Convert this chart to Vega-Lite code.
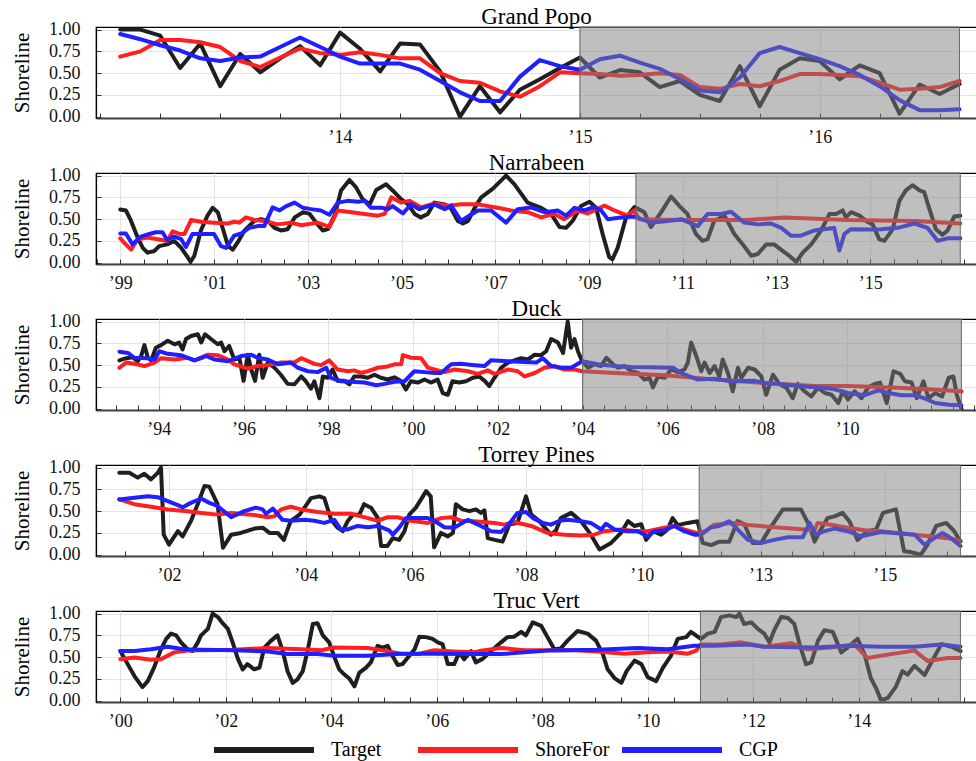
{
  "$schema": "https://vega.github.io/schema/vega-lite/v6.json",
  "padding": {"left": 10, "top": 5, "right": 0, "bottom": 0},
  "background": "white",
  "spacing": 55,
  "bounds": "flush",
  "config": {
    "font": "Liberation Serif, DejaVu Serif, serif",
    "view": {"stroke": "#000", "strokeWidth": 1.2},
    "axis": {"labelFont": "Liberation Serif, DejaVu Serif, serif", "labelFontSize": 18, "labelColor": "#111", "titleFont": "Liberation Serif, DejaVu Serif, serif", "titleFontSize": 21, "titleFontWeight": "normal", "titleColor": "#000", "gridColor": "#e4e4e4", "gridWidth": 1.2, "tickColor": "#333", "tickWidth": 1, "domainColor": "#000", "domainWidth": 1.2},
    "axisX": {"domainColor": "#444", "domainWidth": 2},
    "title": {"font": "Liberation Serif, DejaVu Serif, serif", "fontSize": 23, "fontWeight": "normal", "color": "#000", "anchor": "middle", "offset": -8.5, "baseline": "alphabetic"}
  },
  "datasets": {
    "shade": [
      {"p": "Grand Popo", "a": 2015.0, "b": 2016.583},
      {"p": "Narrabeen", "a": 2010.0, "b": 2016.92},
      {"p": "Duck", "a": 2004.0, "b": 2012.71},
      {"p": "Torrey Pines", "a": 2011.45, "b": 2016.22},
      {"p": "Truc Vert", "a": 2011.0, "b": 2015.93}
    ],
    "lines": [
      {"p": "Grand Popo", "s": "Target",
       "t": [2013.083,2013.167,2013.25,2013.333,2013.417,2013.5,2013.583,2013.667,2013.75,2013.833,2013.917,2014.0,2014.083,2014.167,2014.25,2014.333,2014.417,2014.5,2014.583,2014.667,2014.75,2014.833,2014.917,2015.0,2015.083,2015.167,2015.25,2015.333,2015.417,2015.5,2015.583,2015.667,2015.75,2015.833,2015.917,2016.0,2016.083,2016.167,2016.25,2016.333,2016.417,2016.5,2016.583],
       "v": [1.0,1.0,0.93,0.56,0.84,0.35,0.72,0.51,0.67,0.81,0.59,0.965,0.78,0.52,0.84,0.83,0.52,0.0,0.35,0.05,0.31,0.43,0.56,0.68,0.45,0.535,0.51,0.34,0.41,0.25,0.18,0.58,0.12,0.54,0.67,0.64,0.43,0.59,0.5,0.035,0.37,0.26,0.375]},
      {"p": "Grand Popo", "s": "ShoreFor",
       "t": [2013.083,2013.167,2013.25,2013.333,2013.417,2013.5,2013.583,2013.667,2013.75,2013.833,2013.917,2014.0,2014.083,2014.167,2014.25,2014.333,2014.417,2014.5,2014.583,2014.667,2014.75,2014.833,2014.917,2015.0,2015.083,2015.167,2015.25,2015.333,2015.417,2015.5,2015.583,2015.667,2015.75,2015.833,2015.917,2016.0,2016.083,2016.167,2016.25,2016.333,2016.417,2016.5,2016.583],
       "v": [0.69,0.75,0.88,0.88,0.855,0.80,0.64,0.57,0.68,0.785,0.73,0.71,0.74,0.71,0.67,0.67,0.50,0.41,0.39,0.29,0.23,0.35,0.51,0.50,0.49,0.47,0.48,0.50,0.48,0.34,0.32,0.375,0.35,0.41,0.49,0.49,0.48,0.465,0.39,0.31,0.32,0.34,0.41]},
      {"p": "Grand Popo", "s": "CGP",
       "t": [2013.083,2013.167,2013.25,2013.333,2013.417,2013.5,2013.583,2013.667,2013.75,2013.833,2013.917,2014.0,2014.083,2014.167,2014.25,2014.333,2014.417,2014.5,2014.583,2014.667,2014.75,2014.833,2014.917,2015.0,2015.083,2015.167,2015.25,2015.333,2015.417,2015.5,2015.583,2015.667,2015.75,2015.833,2015.917,2016.0,2016.083,2016.167,2016.25,2016.333,2016.417,2016.5,2016.583],
       "v": [0.95,0.89,0.82,0.76,0.67,0.64,0.68,0.69,0.80,0.91,0.80,0.69,0.61,0.61,0.61,0.54,0.41,0.28,0.18,0.18,0.46,0.65,0.58,0.54,0.66,0.70,0.62,0.55,0.43,0.30,0.28,0.45,0.73,0.80,0.73,0.66,0.58,0.48,0.35,0.19,0.075,0.075,0.085]},
      {"p": "Narrabeen", "s": "Target",
       "t": [1999.0,1999.12,1999.23,1999.37,1999.48,1999.58,1999.73,1999.83,2000.0,2000.15,2000.3,2000.44,2000.5,2000.58,2000.72,2000.86,2000.97,2001.08,2001.2,2001.3,2001.4,2001.5,2001.65,2001.86,2002.0,2002.15,2002.29,2002.43,2002.57,2002.72,2002.9,2003.04,2003.18,2003.32,2003.43,2003.57,2003.71,2003.89,2004.03,2004.17,2004.32,2004.46,2004.67,2004.81,2004.99,2005.14,2005.28,2005.41,2005.56,2005.7,2005.92,2006.06,2006.2,2006.31,2006.42,2006.56,2006.7,2006.95,2007.23,2007.41,2007.69,2007.98,2008.19,2008.37,2008.51,2008.65,2008.83,2009.01,2009.15,2009.29,2009.43,2009.5,2009.61,2009.79,2009.97,2010.18,2010.32,2010.54,2010.75,2010.93,2011.1,2011.28,2011.42,2011.53,2011.67,2011.89,2012.1,2012.28,2012.46,2012.6,2012.78,2012.95,2013.13,2013.27,2013.42,2013.56,2013.74,2013.95,2014.13,2014.27,2014.41,2014.48,2014.59,2014.77,2014.91,2015.05,2015.19,2015.3,2015.48,2015.62,2015.76,2015.9,2016.05,2016.15,2016.26,2016.4,2016.54,2016.65,2016.79,2016.92],
       "v": [0.61,0.60,0.48,0.29,0.17,0.115,0.135,0.19,0.21,0.25,0.17,0.06,0.01,0.08,0.37,0.54,0.63,0.58,0.37,0.19,0.15,0.23,0.37,0.48,0.50,0.48,0.40,0.37,0.385,0.52,0.58,0.56,0.46,0.37,0.385,0.54,0.83,0.95,0.865,0.73,0.67,0.835,0.90,0.83,0.73,0.67,0.56,0.52,0.56,0.69,0.67,0.62,0.48,0.45,0.48,0.63,0.75,0.85,1.0,0.90,0.69,0.63,0.56,0.41,0.40,0.48,0.65,0.70,0.63,0.33,0.065,0.04,0.17,0.52,0.64,0.58,0.41,0.58,0.76,0.65,0.56,0.33,0.25,0.27,0.48,0.54,0.33,0.21,0.08,0.10,0.21,0.21,0.135,0.08,0.01,0.115,0.21,0.37,0.56,0.56,0.60,0.52,0.58,0.54,0.48,0.44,0.27,0.25,0.385,0.71,0.83,0.89,0.83,0.81,0.62,0.385,0.32,0.37,0.53,0.54]},
      {"p": "Narrabeen", "s": "ShoreFor",
       "t": [1999.0,1999.08,1999.23,1999.37,1999.58,1999.8,2000.0,2000.12,2000.26,2000.37,2000.51,2000.72,2001.0,2001.29,2001.43,2001.54,2001.68,2001.86,2002.07,2002.36,2002.64,2002.86,2003.21,2003.46,2003.64,2003.93,2004.21,2004.49,2004.64,2004.78,2004.99,2005.17,2005.42,2005.7,2005.99,2006.27,2006.63,2007.05,2007.33,2007.69,2007.98,2008.26,2008.47,2008.76,2008.97,2009.11,2009.33,2009.54,2009.82,2009.97,2010.07,2010.96,2012.38,2013.17,2014.52,2015.94,2016.92],
       "v": [0.28,0.23,0.15,0.27,0.29,0.27,0.25,0.36,0.33,0.33,0.49,0.47,0.46,0.45,0.47,0.46,0.52,0.49,0.48,0.44,0.46,0.43,0.46,0.41,0.60,0.58,0.56,0.54,0.56,0.75,0.69,0.71,0.635,0.68,0.655,0.67,0.67,0.63,0.60,0.58,0.52,0.56,0.50,0.60,0.565,0.60,0.655,0.60,0.54,0.60,0.50,0.49,0.49,0.52,0.49,0.48,0.45]},
      {"p": "Narrabeen", "s": "CGP",
       "t": [1999.0,1999.12,1999.26,1999.44,1999.62,1999.76,1999.9,2000.0,2000.15,2000.3,2000.4,2000.54,2000.72,2001.0,2001.15,2001.26,2001.43,2001.58,2001.75,2001.93,2002.07,2002.25,2002.4,2002.54,2002.72,2002.9,2003.07,2003.28,2003.46,2003.64,2003.85,2004.07,2004.21,2004.35,2004.57,2004.71,2004.81,2005.03,2005.2,2005.38,2005.49,2005.7,2005.92,2006.06,2006.27,2006.42,2006.63,2006.91,2007.23,2007.48,2007.76,2008.05,2008.33,2008.51,2008.69,2008.9,2009.11,2009.26,2009.4,2009.68,2009.97,2010.32,2010.68,2010.96,2011.32,2011.53,2011.82,2012.03,2012.31,2012.6,2012.88,2013.1,2013.31,2013.52,2013.81,2014.09,2014.23,2014.34,2014.45,2014.59,2015.02,2015.23,2015.59,2015.94,2016.22,2016.44,2016.65,2016.92],
       "v": [0.335,0.335,0.21,0.30,0.33,0.35,0.35,0.26,0.30,0.27,0.18,0.33,0.33,0.33,0.19,0.17,0.31,0.335,0.40,0.42,0.42,0.635,0.60,0.65,0.69,0.63,0.615,0.60,0.55,0.69,0.71,0.70,0.71,0.63,0.63,0.615,0.65,0.565,0.67,0.615,0.635,0.67,0.615,0.655,0.48,0.53,0.60,0.60,0.46,0.615,0.635,0.58,0.60,0.54,0.63,0.60,0.64,0.60,0.50,0.52,0.53,0.46,0.48,0.50,0.42,0.56,0.56,0.585,0.46,0.44,0.45,0.40,0.31,0.31,0.37,0.39,0.40,0.14,0.33,0.385,0.38,0.385,0.40,0.45,0.40,0.25,0.28,0.28]},
      {"p": "Duck", "s": "Target",
       "t": [1993.07,1993.23,1993.38,1993.5,1993.58,1993.66,1993.74,1993.82,1993.93,1994.05,1994.21,1994.37,1994.48,1994.56,1994.64,1994.76,1994.92,1995.0,1995.09,1995.23,1995.39,1995.47,1995.55,1995.66,1995.78,1995.9,1996.0,1996.1,1996.18,1996.27,1996.37,1996.45,1996.57,1996.73,1996.88,1997.04,1997.2,1997.36,1997.47,1997.59,1997.67,1997.79,1997.87,1997.99,1998.1,1998.22,1998.38,1998.5,1998.61,1998.77,1998.93,1999.09,1999.24,1999.4,1999.56,1999.72,1999.83,1999.95,2000.11,2000.27,2000.42,2000.58,2000.7,2000.82,2000.93,2001.09,2001.25,2001.41,2001.56,2001.69,2001.8,2001.92,2002.08,2002.24,2002.39,2002.55,2002.71,2002.87,2003.02,2003.14,2003.26,2003.42,2003.54,2003.65,2003.73,2003.81,2003.89,2003.99,2004.13,2004.28,2004.44,2004.56,2004.72,2004.83,2004.99,2005.15,2005.31,2005.46,2005.58,2005.66,2005.78,2005.94,2006.08,2006.22,2006.36,2006.43,2006.5,2006.61,2006.71,2006.78,2006.89,2006.99,2007.09,2007.16,2007.27,2007.37,2007.48,2007.55,2007.69,2007.83,2007.97,2008.08,2008.24,2008.4,2008.56,2008.71,2008.83,2008.99,2009.15,2009.31,2009.47,2009.63,2009.79,2009.9,2010.02,2010.18,2010.34,2010.5,2010.66,2010.78,2010.94,2011.1,2011.26,2011.37,2011.53,2011.65,2011.81,2011.93,2012.09,2012.25,2012.41,2012.52,2012.6,2012.71],
       "v": [0.555,0.58,0.59,0.545,0.60,0.73,0.585,0.555,0.70,0.73,0.78,0.74,0.76,0.68,0.80,0.835,0.855,0.76,0.855,0.80,0.74,0.76,0.66,0.72,0.565,0.585,0.32,0.62,0.45,0.32,0.62,0.355,0.53,0.47,0.39,0.285,0.28,0.37,0.315,0.23,0.315,0.12,0.37,0.355,0.45,0.32,0.32,0.28,0.37,0.37,0.355,0.39,0.355,0.335,0.36,0.315,0.22,0.315,0.30,0.335,0.30,0.335,0.18,0.16,0.315,0.30,0.315,0.355,0.37,0.32,0.26,0.355,0.47,0.53,0.555,0.58,0.565,0.62,0.615,0.66,0.80,0.76,0.64,1.0,0.70,0.80,0.66,0.545,0.47,0.51,0.49,0.585,0.51,0.47,0.49,0.43,0.41,0.335,0.355,0.245,0.37,0.355,0.45,0.42,0.45,0.53,0.76,0.60,0.43,0.53,0.41,0.49,0.37,0.565,0.41,0.20,0.47,0.355,0.47,0.45,0.37,0.16,0.39,0.28,0.24,0.12,0.285,0.20,0.14,0.24,0.18,0.16,0.065,0.20,0.105,0.20,0.12,0.245,0.285,0.30,0.065,0.43,0.40,0.315,0.30,0.12,0.315,0.12,0.18,0.14,0.355,0.37,0.16,0.0]},
      {"p": "Duck", "s": "ShoreFor",
       "t": [1993.07,1993.23,1993.42,1993.66,1993.9,1994.05,1994.37,1994.68,1994.84,1995.16,1995.39,1995.63,1995.78,1996.1,1996.33,1996.57,1996.88,1997.2,1997.36,1997.67,1997.83,1998.02,1998.22,1998.46,1998.61,1998.77,1998.93,1999.17,1999.4,1999.56,1999.72,1999.76,1999.95,2000.19,2000.35,2000.5,2000.74,2000.98,2001.3,2001.53,2001.76,2001.92,2002.24,2002.47,2002.63,2002.87,2003.1,2003.34,2003.57,2003.81,2003.99,2004.76,2005.94,2006.99,2008.04,2009.23,2010.02,2011.21,2012.0,2012.71],
       "v": [0.47,0.53,0.515,0.49,0.53,0.58,0.565,0.585,0.555,0.62,0.615,0.565,0.51,0.46,0.49,0.50,0.53,0.53,0.58,0.515,0.50,0.555,0.45,0.43,0.44,0.41,0.43,0.47,0.485,0.51,0.51,0.615,0.585,0.58,0.47,0.45,0.42,0.45,0.43,0.40,0.44,0.40,0.45,0.43,0.37,0.41,0.47,0.49,0.45,0.45,0.43,0.41,0.385,0.335,0.295,0.26,0.26,0.24,0.22,0.20]},
      {"p": "Duck", "s": "CGP",
       "t": [1993.07,1993.27,1993.42,1993.74,1993.9,1994.01,1994.21,1994.52,1994.84,1995.0,1995.11,1995.31,1995.63,1995.94,1996.18,1996.33,1996.57,1996.81,1997.12,1997.28,1997.52,1997.75,1997.95,1998.06,1998.3,1998.54,1998.85,1999.13,1999.33,1999.56,1999.8,2000.03,2000.27,2000.5,2000.66,2000.9,2001.13,2001.45,2001.69,2001.84,2002.24,2002.63,2002.91,2003.06,2003.26,2003.5,2003.73,2003.99,2004.36,2004.76,2005.15,2005.54,2006.12,2006.29,2006.64,2006.99,2007.34,2007.83,2008.04,2008.44,2008.83,2009.23,2009.63,2010.02,2010.42,2010.74,2010.98,2011.29,2011.61,2011.85,2012.09,2012.41,2012.71],
       "v": [0.655,0.64,0.585,0.58,0.565,0.66,0.63,0.615,0.555,0.58,0.605,0.565,0.545,0.605,0.62,0.585,0.565,0.51,0.53,0.47,0.43,0.42,0.47,0.355,0.315,0.31,0.30,0.27,0.285,0.31,0.315,0.43,0.42,0.41,0.41,0.51,0.515,0.50,0.49,0.555,0.545,0.535,0.53,0.58,0.49,0.47,0.47,0.545,0.51,0.49,0.48,0.475,0.47,0.41,0.335,0.345,0.315,0.32,0.295,0.28,0.26,0.245,0.23,0.18,0.155,0.21,0.18,0.155,0.155,0.115,0.065,0.045,0.04]},
      {"p": "Torrey Pines", "s": "Target",
       "t": [2001.435,2001.549,2001.644,2001.719,2001.795,2001.872,2001.909,2001.94,2002.0,2002.13,2002.2,2002.32,2002.42,2002.52,2002.59,2002.71,2002.79,2002.91,2003.05,2003.25,2003.37,2003.47,2003.59,2003.68,2003.78,2003.91,2004.0,2004.1,2004.26,2004.35,2004.48,2004.6,2004.7,2004.79,2004.89,2005.01,2005.1,2005.23,2005.36,2005.42,2005.54,2005.64,2005.76,2005.86,2005.95,2006.07,2006.25,2006.33,2006.39,2006.51,2006.63,2006.72,2006.77,2006.89,2007.01,2007.12,2007.21,2007.27,2007.33,2007.45,2007.59,2007.71,2007.85,2008.0,2008.09,2008.23,2008.43,2008.52,2008.6,2008.78,2008.95,2009.12,2009.27,2009.47,2009.64,2009.76,2009.87,2009.99,2010.11,2010.28,2010.49,2010.65,2010.78,2010.91,2011.16,2011.41,2011.54,2011.75,2011.96,2012.21,2012.42,2012.59,2012.8,2013.01,2013.14,2013.36,2013.65,2013.79,2013.87,2013.97,2014.08,2014.19,2014.32,2014.43,2014.56,2014.72,2014.86,2014.97,2015.18,2015.31,2015.42,2015.58,2015.69,2015.83,2015.99,2016.12,2016.22],
       "v": [0.94,0.94,0.885,0.93,0.865,0.94,1.0,0.23,0.115,0.27,0.21,0.385,0.58,0.79,0.78,0.58,0.08,0.23,0.25,0.30,0.31,0.25,0.25,0.17,0.385,0.46,0.56,0.65,0.67,0.65,0.40,0.31,0.27,0.385,0.46,0.46,0.58,0.54,0.42,0.10,0.10,0.19,0.17,0.27,0.46,0.54,0.73,0.67,0.085,0.25,0.21,0.25,0.58,0.52,0.50,0.52,0.48,0.51,0.19,0.17,0.15,0.35,0.365,0.67,0.46,0.385,0.23,0.28,0.42,0.48,0.385,0.23,0.06,0.135,0.25,0.385,0.33,0.35,0.17,0.27,0.23,0.29,0.42,0.34,0.365,0.385,0.135,0.11,0.15,0.15,0.385,0.35,0.135,0.135,0.29,0.52,0.52,0.33,0.15,0.29,0.42,0.44,0.48,0.385,0.17,0.27,0.29,0.48,0.52,0.04,0.03,0.0,0.115,0.33,0.365,0.27,0.15]},
      {"p": "Torrey Pines", "s": "ShoreFor",
       "t": [2001.435,2001.606,2001.795,2001.985,2002.27,2002.47,2002.71,2002.91,2003.25,2003.44,2003.54,2003.64,2003.78,2003.93,2004.23,2004.54,2004.85,2005.17,2005.36,2005.54,2005.73,2005.98,2006.28,2006.51,2006.69,2006.86,2007.09,2007.45,2007.62,2007.79,2008.09,2008.37,2008.66,2008.95,2009.18,2009.35,2009.64,2009.93,2010.15,2010.57,2010.82,2011.07,2011.45,2011.67,2011.83,2012.34,2012.68,2013.33,2013.87,2013.92,2014.13,2014.4,2014.67,2014.94,2015.21,2015.48,2015.75,2016.01,2016.22],
       "v": [0.635,0.58,0.55,0.52,0.50,0.48,0.46,0.48,0.455,0.43,0.44,0.52,0.55,0.52,0.49,0.47,0.47,0.42,0.39,0.43,0.43,0.39,0.365,0.42,0.43,0.39,0.385,0.365,0.345,0.375,0.33,0.25,0.23,0.22,0.23,0.27,0.29,0.27,0.27,0.31,0.33,0.29,0.24,0.29,0.345,0.365,0.34,0.31,0.28,0.365,0.345,0.31,0.28,0.27,0.25,0.23,0.21,0.19,0.16]},
      {"p": "Torrey Pines", "s": "CGP",
       "t": [2001.435,2001.606,2001.758,2001.872,2001.985,2002.13,2002.2,2002.32,2002.47,2002.59,2002.71,2002.91,2003.1,2003.27,2003.37,2003.42,2003.52,2003.66,2003.78,2003.98,2004.16,2004.35,2004.54,2004.66,2004.79,2004.98,2005.17,2005.36,2005.57,2005.64,2005.76,2005.89,2006.1,2006.28,2006.39,2006.57,2006.74,2006.98,2007.21,2007.39,2007.56,2007.68,2007.85,2008.0,2008.12,2008.29,2008.43,2008.58,2008.72,2008.95,2009.12,2009.3,2009.38,2009.53,2009.76,2009.93,2010.15,2010.32,2010.57,2010.82,2011.07,2011.33,2011.5,2011.75,2011.96,2012.21,2012.42,2012.68,2013.01,2013.22,2013.44,2013.68,2013.79,2013.89,2014.03,2014.19,2014.4,2014.62,2014.94,2015.31,2015.48,2015.64,2015.8,2015.93,2016.07,2016.22],
       "v": [0.635,0.655,0.67,0.66,0.615,0.57,0.545,0.595,0.645,0.595,0.56,0.43,0.50,0.54,0.52,0.47,0.53,0.40,0.39,0.40,0.39,0.365,0.40,0.29,0.29,0.33,0.315,0.33,0.28,0.23,0.31,0.42,0.42,0.42,0.39,0.315,0.31,0.40,0.33,0.27,0.26,0.33,0.48,0.49,0.42,0.365,0.345,0.39,0.40,0.385,0.365,0.29,0.355,0.29,0.27,0.27,0.21,0.27,0.28,0.33,0.27,0.23,0.23,0.315,0.33,0.385,0.29,0.17,0.135,0.17,0.20,0.20,0.365,0.23,0.27,0.30,0.27,0.21,0.26,0.24,0.23,0.115,0.19,0.25,0.19,0.10]},
      {"p": "Truc Vert", "s": "Target",
       "t": [2000.0,2000.14,2000.27,2000.42,2000.52,2000.64,2000.77,2000.87,2000.96,2001.06,2001.15,2001.28,2001.37,2001.47,2001.53,2001.66,2001.75,2001.85,2001.94,2002.04,2002.13,2002.23,2002.32,2002.41,2002.54,2002.64,2002.73,2002.86,2002.98,2003.08,2003.17,2003.27,2003.36,2003.46,2003.55,2003.65,2003.74,2003.84,2003.96,2004.06,2004.15,2004.25,2004.34,2004.44,2004.53,2004.66,2004.75,2004.88,2004.97,2005.07,2005.16,2005.26,2005.35,2005.48,2005.58,2005.67,2005.8,2005.92,2006.02,2006.11,2006.21,2006.33,2006.43,2006.52,2006.65,2006.74,2006.87,2007.03,2007.22,2007.34,2007.47,2007.6,2007.69,2007.82,2007.98,2008.1,2008.23,2008.35,2008.48,2008.67,2008.86,2009.02,2009.15,2009.24,2009.37,2009.5,2009.6,2009.75,2009.88,2010.0,2010.16,2010.29,2010.44,2010.57,2010.73,2010.82,2011.01,2011.14,2011.27,2011.39,2011.55,2011.68,2011.74,2011.83,2011.96,2012.09,2012.21,2012.31,2012.4,2012.53,2012.66,2012.78,2012.88,2013.0,2013.1,2013.23,2013.35,2013.51,2013.67,2013.79,2013.98,2014.11,2014.23,2014.33,2014.42,2014.55,2014.71,2014.83,2014.93,2015.06,2015.25,2015.41,2015.57,2015.76,2015.93],
       "v": [0.57,0.42,0.28,0.155,0.225,0.38,0.59,0.71,0.77,0.75,0.67,0.59,0.57,0.67,0.75,0.825,1.0,0.96,0.89,0.825,0.67,0.48,0.36,0.42,0.36,0.38,0.61,0.69,0.75,0.57,0.34,0.205,0.245,0.34,0.57,0.88,0.89,0.75,0.67,0.50,0.36,0.30,0.255,0.165,0.32,0.38,0.44,0.63,0.61,0.63,0.515,0.41,0.42,0.515,0.59,0.735,0.73,0.71,0.67,0.65,0.42,0.42,0.555,0.475,0.57,0.44,0.48,0.57,0.67,0.73,0.735,0.79,0.75,0.90,0.86,0.73,0.59,0.60,0.69,0.80,0.77,0.69,0.535,0.36,0.26,0.205,0.34,0.46,0.42,0.27,0.225,0.38,0.515,0.71,0.73,0.79,0.71,0.77,0.79,0.96,0.98,0.96,1.0,0.88,0.90,0.825,0.77,0.67,0.81,0.96,0.95,0.88,0.65,0.42,0.44,0.69,0.81,0.79,0.555,0.61,0.71,0.535,0.26,0.145,0.01,0.03,0.165,0.34,0.30,0.40,0.295,0.475,0.65,0.62,0.57]},
      {"p": "Truc Vert", "s": "ShoreFor",
       "t": [2000.0,2000.27,2000.58,2000.77,2001.02,2001.28,2001.53,2002.16,2002.79,2003.43,2003.81,2004.06,2004.69,2005.01,2005.32,2005.64,2005.95,2006.33,2006.71,2006.84,2007.22,2007.66,2008.1,2008.61,2009.05,2009.56,2010.0,2010.38,2010.76,2010.92,2011.0,2011.39,2011.77,2012.21,2012.72,2013.03,2013.48,2013.92,2014.17,2014.61,2015.06,2015.31,2015.69,2015.93],
       "v": [0.475,0.495,0.47,0.475,0.555,0.575,0.58,0.585,0.605,0.59,0.58,0.61,0.605,0.575,0.54,0.535,0.58,0.565,0.555,0.575,0.605,0.58,0.58,0.58,0.565,0.54,0.555,0.565,0.54,0.575,0.645,0.645,0.67,0.62,0.66,0.59,0.61,0.645,0.49,0.535,0.575,0.455,0.49,0.49]},
      {"p": "Truc Vert", "s": "CGP",
       "t": [2000.0,2000.27,2000.58,2000.9,2001.21,2001.53,2002.16,2002.79,2003.17,2003.74,2004.06,2004.69,2005.32,2005.95,2006.59,2007.22,2008.1,2009.05,2009.81,2010.38,2010.88,2011.26,2011.9,2012.21,2013.16,2013.79,2014.42,2015.06,2015.57,2015.93],
       "v": [0.57,0.57,0.59,0.62,0.59,0.585,0.58,0.565,0.535,0.535,0.515,0.515,0.54,0.54,0.535,0.535,0.575,0.585,0.605,0.59,0.63,0.63,0.645,0.62,0.61,0.63,0.62,0.62,0.645,0.62]}
    ]
  },
  "vconcat": [
    {
      "title": {"text": "Grand Popo"},
      "width": 881, "height": 91,
      "resolve": {"axis": {"x": "independent"}},
      "layer": [
        {"data": {"name": "lines"},
         "transform": [{"filter": "datum.p == 'Grand Popo'"}, {"flatten": ["t", "v"]}],
         "mark": {"type": "line", "strokeWidth": 4, "strokeJoin": "round", "strokeCap": "round", "clip": true},
         "encoding": {
           "x": {"field": "t", "type": "quantitative", "scale": {"domain": [2012.982, 2016.656], "nice": false, "zero": false},
                 "axis": {"orient": "bottom", "title": null, "values": [2014, 2015, 2016], "labelExpr": "'’' + substring(toString(datum.value), 2, 4)", "ticks": false, "grid": true, "labelPadding": 10}},
           "y": {"field": "v", "type": "quantitative", "scale": {"domain": [-0.015, 1.03], "nice": false, "zero": false},
                 "axis": {"title": "Shoreline", "values": [0, 0.25, 0.5, 0.75, 1], "format": ".2f", "tickSize": -5, "labelPadding": 21, "titlePadding": 16, "grid": true}},
           "color": {"field": "s", "type": "nominal", "sort": null, "scale": {"domain": ["Target", "ShoreFor", "CGP"], "range": ["#1f1f1f", "#ff1f1f", "#1f1fff"]},
                     "legend": {"orient": "none", "legendX": 115, "legendY": 670, "direction": "horizontal", "columns": 3, "title": null, "symbolType": "stroke", "symbolSize": 10000, "symbolStrokeWidth": 6, "labelFont": "Liberation Serif, DejaVu Serif, serif", "labelFontSize": 20, "labelColor": "#000", "labelOffset": 14, "columnPadding": 0, "gridAlign": "all"}}
         }},
        {"data": {"name": "shade"},
         "transform": [{"filter": "datum.p == 'Grand Popo'"}],
         "mark": {"type": "rect", "fill": "#808080", "fillOpacity": 0.5, "stroke": "#6a6a6a", "strokeWidth": 1},
         "encoding": {
           "x": {"field": "a", "type": "quantitative", "axis": {"orient": "bottom", "title": null, "values": [2013, 2013.25, 2013.5, 2013.75, 2014, 2014.25, 2014.5, 2014.75, 2015, 2015.25, 2015.5, 2015.75, 2016, 2016.25, 2016.5], "labels": false, "grid": false, "domain": false, "ticks": true, "tickSize": -5}},
           "x2": {"field": "b"}
         }}
      ]
    },
    {
      "title": {"text": "Narrabeen"},
      "width": 881, "height": 91,
      "resolve": {"axis": {"x": "independent"}},
      "layer": [
        {"data": {"name": "lines"},
         "transform": [{"filter": "datum.p == 'Narrabeen'"}, {"flatten": ["t", "v"]}],
         "mark": {"type": "line", "strokeWidth": 4, "strokeJoin": "round", "strokeCap": "round", "clip": true},
         "encoding": {
           "x": {"field": "t", "type": "quantitative", "scale": {"domain": [1998.482, 2017.277], "nice": false, "zero": false},
                 "axis": {"orient": "bottom", "title": null, "values": [1999, 2001, 2003, 2005, 2007, 2009, 2011, 2013, 2015], "labelExpr": "'’' + substring(toString(datum.value), 2, 4)", "ticks": false, "grid": true, "labelPadding": 10}},
           "y": {"field": "v", "type": "quantitative", "scale": {"domain": [-0.015, 1.03], "nice": false, "zero": false},
                 "axis": {"title": "Shoreline", "values": [0, 0.25, 0.5, 0.75, 1], "format": ".2f", "tickSize": -5, "labelPadding": 21, "titlePadding": 16, "grid": true}},
           "color": {"field": "s", "type": "nominal", "sort": null, "scale": {"domain": ["Target", "ShoreFor", "CGP"], "range": ["#1f1f1f", "#ff1f1f", "#1f1fff"]},
                     "legend": {"orient": "none", "legendX": 115, "legendY": 670, "direction": "horizontal", "columns": 3, "title": null, "symbolType": "stroke", "symbolSize": 10000, "symbolStrokeWidth": 6, "labelFont": "Liberation Serif, DejaVu Serif, serif", "labelFontSize": 20, "labelColor": "#000", "labelOffset": 14, "columnPadding": 0, "gridAlign": "all"}}
         }},
        {"data": {"name": "shade"},
         "transform": [{"filter": "datum.p == 'Narrabeen'"}],
         "mark": {"type": "rect", "fill": "#808080", "fillOpacity": 0.5, "stroke": "#6a6a6a", "strokeWidth": 1},
         "encoding": {
           "x": {"field": "a", "type": "quantitative", "axis": {"orient": "bottom", "title": null, "values": [1998.5,1999,1999.5,2000,2000.5,2001,2001.5,2002,2002.5,2003,2003.5,2004,2004.5,2005,2005.5,2006,2006.5,2007,2007.5,2008,2008.5,2009,2009.5,2010,2010.5,2011,2011.5,2012,2012.5,2013,2013.5,2014,2014.5,2015,2015.5,2016,2016.5,2017], "labels": false, "grid": false, "domain": false, "ticks": true, "tickSize": -5}},
           "x2": {"field": "b"}
         }}
      ]
    },
    {
      "title": {"text": "Duck"},
      "width": 881, "height": 91,
      "resolve": {"axis": {"x": "independent"}},
      "layer": [
        {"data": {"name": "lines"},
         "transform": [{"filter": "datum.p == 'Duck'"}, {"flatten": ["t", "v"]}],
         "mark": {"type": "line", "strokeWidth": 4, "strokeJoin": "round", "strokeCap": "round", "clip": true},
         "encoding": {
           "x": {"field": "t", "type": "quantitative", "scale": {"domain": [1992.517, 2006, 2008, 2013.08], "range": [0, 571.3, 666.8, 881], "nice": false, "zero": false},
                 "axis": {"orient": "bottom", "title": null, "values": [1994, 1996, 1998, 2000, 2002, 2004, 2006, 2008, 2010], "labelExpr": "'’' + substring(toString(datum.value), 2, 4)", "ticks": false, "grid": true, "labelPadding": 10}},
           "y": {"field": "v", "type": "quantitative", "scale": {"domain": [-0.015, 1.03], "nice": false, "zero": false},
                 "axis": {"title": "Shoreline", "values": [0, 0.25, 0.5, 0.75, 1], "format": ".2f", "tickSize": -5, "labelPadding": 21, "titlePadding": 16, "grid": true}},
           "color": {"field": "s", "type": "nominal", "sort": null, "scale": {"domain": ["Target", "ShoreFor", "CGP"], "range": ["#1f1f1f", "#ff1f1f", "#1f1fff"]},
                     "legend": {"orient": "none", "legendX": 115, "legendY": 670, "direction": "horizontal", "columns": 3, "title": null, "symbolType": "stroke", "symbolSize": 10000, "symbolStrokeWidth": 6, "labelFont": "Liberation Serif, DejaVu Serif, serif", "labelFontSize": 20, "labelColor": "#000", "labelOffset": 14, "columnPadding": 0, "gridAlign": "all"}}
         }},
        {"data": {"name": "shade"},
         "transform": [{"filter": "datum.p == 'Duck'"}],
         "mark": {"type": "rect", "fill": "#808080", "fillOpacity": 0.5, "stroke": "#6a6a6a", "strokeWidth": 1},
         "encoding": {
           "x": {"field": "a", "type": "quantitative", "axis": {"orient": "bottom", "title": null, "values": [1993,1993.5,1994,1994.5,1995,1995.5,1996,1996.5,1997,1997.5,1998,1998.5,1999,1999.5,2000,2000.5,2001,2001.5,2002,2002.5,2003,2003.5,2004,2004.5,2005,2005.5,2006,2006.5,2007,2007.5,2008,2008.5,2009,2009.5,2010,2010.5,2011,2011.5,2012,2012.5,2013], "labels": false, "grid": false, "domain": false, "ticks": true, "tickSize": -5}},
           "x2": {"field": "b"}
         }}
      ]
    },
    {
      "title": {"text": "Torrey Pines"},
      "width": 881, "height": 91,
      "resolve": {"axis": {"x": "independent"}},
      "layer": [
        {"data": {"name": "lines"},
         "transform": [{"filter": "datum.p == 'Torrey Pines'"}, {"flatten": ["t", "v"]}],
         "mark": {"type": "line", "strokeWidth": 4, "strokeJoin": "round", "strokeCap": "round", "clip": true},
         "encoding": {
           "x": {"field": "t", "type": "quantitative", "scale": {"domain": [2001.17, 2002, 2004, 2006, 2008, 2010, 2013, 2015, 2016.487], "range": [0, 73, 209.7, 315.9, 430, 545.8, 664.5, 788.8, 881], "nice": false, "zero": false},
                 "axis": {"orient": "bottom", "title": null, "values": [2002, 2004, 2006, 2008, 2010, 2013, 2015], "labelExpr": "'’' + substring(toString(datum.value), 2, 4)", "ticks": false, "grid": true, "labelPadding": 10}},
           "y": {"field": "v", "type": "quantitative", "scale": {"domain": [-0.015, 1.03], "nice": false, "zero": false},
                 "axis": {"title": "Shoreline", "values": [0, 0.25, 0.5, 0.75, 1], "format": ".2f", "tickSize": -5, "labelPadding": 21, "titlePadding": 16, "grid": true}},
           "color": {"field": "s", "type": "nominal", "sort": null, "scale": {"domain": ["Target", "ShoreFor", "CGP"], "range": ["#1f1f1f", "#ff1f1f", "#1f1fff"]},
                     "legend": {"orient": "none", "legendX": 115, "legendY": 670, "direction": "horizontal", "columns": 3, "title": null, "symbolType": "stroke", "symbolSize": 10000, "symbolStrokeWidth": 6, "labelFont": "Liberation Serif, DejaVu Serif, serif", "labelFontSize": 20, "labelColor": "#000", "labelOffset": 14, "columnPadding": 0, "gridAlign": "all"}}
         }},
        {"data": {"name": "shade"},
         "transform": [{"filter": "datum.p == 'Torrey Pines'"}],
         "mark": {"type": "rect", "fill": "#808080", "fillOpacity": 0.5, "stroke": "#6a6a6a", "strokeWidth": 1},
         "encoding": {
           "x": {"field": "a", "type": "quantitative", "axis": {"orient": "bottom", "title": null, "values": [2001.5,2002,2002.5,2003,2003.5,2004,2004.5,2005,2005.5,2006,2006.5,2007,2007.5,2008,2008.5,2009,2009.5,2010,2011,2012,2013,2013.5,2014,2014.5,2015,2015.5,2016], "labels": false, "grid": false, "domain": false, "ticks": true, "tickSize": -5}},
           "x2": {"field": "b"}
         }}
      ]
    },
    {
      "title": {"text": "Truc Vert"},
      "width": 881, "height": 91,
      "resolve": {"axis": {"x": "independent"}},
      "layer": [
        {"data": {"name": "lines"},
         "transform": [{"filter": "datum.p == 'Truc Vert'"}, {"flatten": ["t", "v"]}],
         "mark": {"type": "line", "strokeWidth": 4, "strokeJoin": "round", "strokeCap": "round", "clip": true},
         "encoding": {
           "x": {"field": "t", "type": "quantitative", "scale": {"domain": [1999.539, 2016.244], "nice": false, "zero": false},
                 "axis": {"orient": "bottom", "title": null, "values": [2000, 2002, 2004, 2006, 2008, 2010, 2012, 2014], "labelExpr": "'’' + substring(toString(datum.value), 2, 4)", "ticks": false, "grid": true, "labelPadding": 10}},
           "y": {"field": "v", "type": "quantitative", "scale": {"domain": [-0.015, 1.03], "nice": false, "zero": false},
                 "axis": {"title": "Shoreline", "values": [0, 0.25, 0.5, 0.75, 1], "format": ".2f", "tickSize": -5, "labelPadding": 21, "titlePadding": 16, "grid": true}},
           "color": {"field": "s", "type": "nominal", "sort": null, "scale": {"domain": ["Target", "ShoreFor", "CGP"], "range": ["#1f1f1f", "#ff1f1f", "#1f1fff"]},
                     "legend": {"orient": "none", "legendX": 115, "legendY": 670, "direction": "horizontal", "columns": 3, "title": null, "symbolType": "stroke", "symbolSize": 10000, "symbolStrokeWidth": 6, "labelFont": "Liberation Serif, DejaVu Serif, serif", "labelFontSize": 20, "labelColor": "#000", "labelOffset": 14, "columnPadding": 0, "gridAlign": "all"}}
         }},
        {"data": {"name": "shade"},
         "transform": [{"filter": "datum.p == 'Truc Vert'"}],
         "mark": {"type": "rect", "fill": "#808080", "fillOpacity": 0.5, "stroke": "#6a6a6a", "strokeWidth": 1},
         "encoding": {
           "x": {"field": "a", "type": "quantitative", "axis": {"orient": "bottom", "title": null, "values": [1999.5,2000,2000.5,2001,2001.5,2002,2002.5,2003,2003.5,2004,2004.5,2005,2005.5,2006,2006.5,2007,2007.5,2008,2008.5,2009,2009.5,2010,2010.5,2011,2011.5,2012,2012.5,2013,2013.5,2014,2014.5,2015,2015.5,2016], "labels": false, "grid": false, "domain": false, "ticks": true, "tickSize": -5}},
           "x2": {"field": "b"}
         }}
      ]
    }
  ]
}
